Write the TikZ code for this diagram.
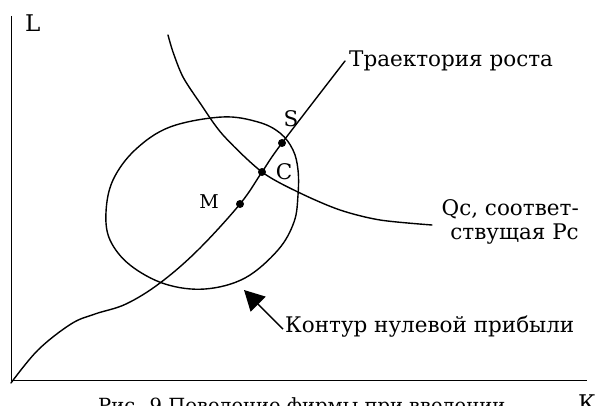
\documentclass[tikz,border=0pt]{standalone}
\usepackage{fontspec}
\setmainfont{DejaVu Serif}
\usetikzlibrary{arrows.meta}
\tikzset{
  curve/.style={line width=1.4pt, line join=round, line cap=round},
  axis/.style={line width=1.8pt},
  lbl/.style={inner sep=0pt, font=\fontsize{21.5}{24}\selectfont},
  caplbl/.style={inner sep=0pt, font=\fontsize{19.5}{22}\selectfont},
  biglbl/.style={inner sep=0pt, font=\fontsize{23}{26}\selectfont},
  smalllbl/.style={inner sep=0pt, font=\fontsize{19}{22}\selectfont},
  dot/.style={circle, fill=black, inner sep=0pt, minimum size=8pt},
  arr/.style={line width=1.4pt, -{Triangle[length=20pt,width=21pt]}}
}
\begin{document}
\begin{tikzpicture}[x=1pt,y=-1pt]
\clip (0,0) rectangle (596,406);
% axes
\coordinate (O) at (11.5,380.5);
\coordinate (Ytop) at (11.5,16);
\coordinate (Xend) at (587,380.5);
\draw[axis] (Ytop) -- (O) -- (Xend);
\node[biglbl, anchor=base west] (Llab) at (25,32) {L};
\node[biglbl, anchor=base west] (Klab) at (578,411) {К};
% labels
\node[lbl, anchor=base west] (traj) at (349,67) {Траектория роста};
\node[lbl, anchor=base east] (qc1) at (579,215) {Qc, соответ-};
\node[lbl, anchor=base east] (qc2) at (579,239) {ствущая Pc};
\node[lbl, anchor=base west] (kontur) at (285,332) {Контур нулевой прибыли};
\node[caplbl, anchor=base west] (cap) at (98,412) {Рис. 9 Поведение фирмы при введении};
% points
\coordinate (Mp) at (240,204);
\coordinate (Cp) at (262,172);
\coordinate (Sp) at (282,143);
\node[smalllbl] (Mlab) at (209,202) {M};
\node[lbl] (Clab) at (284,172) {C};
\node[lbl] (Slab) at (291,119) {S};
% growth trajectory
\draw[curve] plot[smooth, tension=0.6] coordinates {(11,383) (38,350) (71,324) (95,314) (126,304) (160,283) (198,250) (Mp) (Cp) (Sp) (345,61)};
% isoquant Qc
\draw[curve] plot[smooth, tension=0.5] coordinates {(168,35) (173,52) (183,77) (200,103) (223,135) (Cp) (300,193) (340,210) (380,220) (432,225)};
% zero-profit contour
\draw[curve] plot[smooth cycle, tension=0.6] coordinates {(222,117) (258,122) (280,133) (293,150) (298,170) (298,195) (294,222) (278,250) (245,278) (205,289) (165,284) (130,265) (110,240) (106,212) (113,180) (135,150) (170,127)};
% dots
\node[dot] (Md) at (Mp) {};
\node[dot] (Cd) at (Cp) {};
\node[dot] (Sd) at (Sp) {};
% arrow
\coordinate (tip) at (244,290);
\draw[arr] ([xshift=-2pt,yshift=-3pt]kontur.west) -- (tip);
\end{tikzpicture}
\end{document}
